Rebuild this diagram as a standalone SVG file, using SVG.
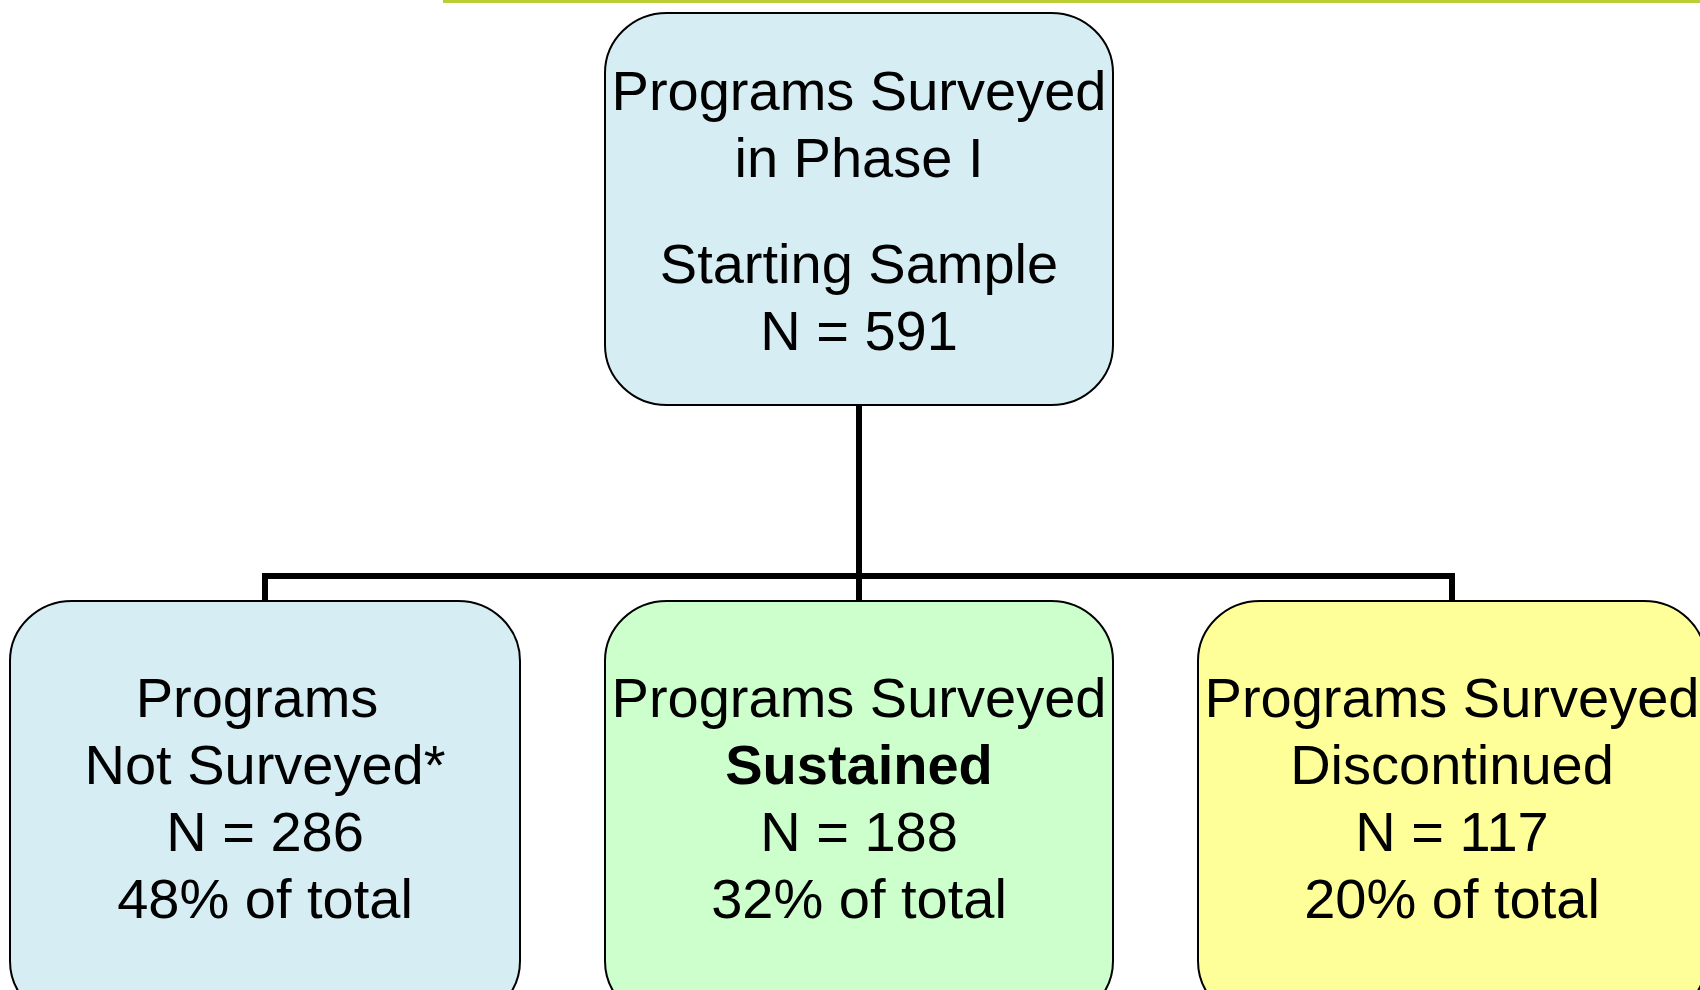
<svg xmlns="http://www.w3.org/2000/svg" width="1700" height="990" viewBox="0 0 1700 990">
<style>
.box{stroke:#000;stroke-width:2}
.blue{fill:#D6EEF3}
.green{fill:#CCFFCC}
.yellow{fill:#FFFF99}
.t{font-family:"Liberation Sans",Arial,sans-serif;font-size:56px;fill:#000;text-anchor:middle}
.b{font-weight:bold}
.conn{fill:none;stroke:#000;stroke-width:6}
</style>
<rect x="0" y="0" width="1700" height="990" fill="#fff"/>
<rect x="443" y="0" width="1257" height="3" fill="#BCCD36"/>
<g id="connectors">
<line class="conn" x1="859" y1="405" x2="859" y2="601"/>
<polyline class="conn" points="265,601 265,576 1452,576 1452,601"/>
</g>
<g id="top">
<rect class="box blue" x="605" y="13" width="508" height="392" rx="62" ry="60"/>
<text class="t" x="859" y="110">Programs Surveyed</text>
<text class="t" x="859" y="177">in Phase I</text>
<text class="t" x="859" y="283">Starting Sample</text>
<text class="t" x="859" y="350">N = 591</text>
</g>
<g id="notSurveyed">
<rect class="box blue" x="10" y="601" width="510" height="420" rx="62" ry="60"/>
<text class="t" x="257" y="717">Programs</text>
<text class="t" x="265" y="784">Not Surveyed*</text>
<text class="t" x="265" y="851">N = 286</text>
<text class="t" x="265" y="918">48% of total</text>
</g>
<g id="sustained">
<rect class="box green" x="605" y="601" width="508" height="420" rx="62" ry="60"/>
<text class="t" x="859" y="717">Programs Surveyed</text>
<text class="t b" x="859" y="784">Sustained</text>
<text class="t" x="859" y="851">N = 188</text>
<text class="t" x="859" y="918">32% of total</text>
</g>
<g id="discontinued">
<rect class="box yellow" x="1198" y="601" width="508" height="420" rx="62" ry="60"/>
<text class="t" x="1452" y="717">Programs Surveyed</text>
<text class="t" x="1452" y="784">Discontinued</text>
<text class="t" x="1452" y="851">N = 117</text>
<text class="t" x="1452" y="918">20% of total</text>
</g>
</svg>
